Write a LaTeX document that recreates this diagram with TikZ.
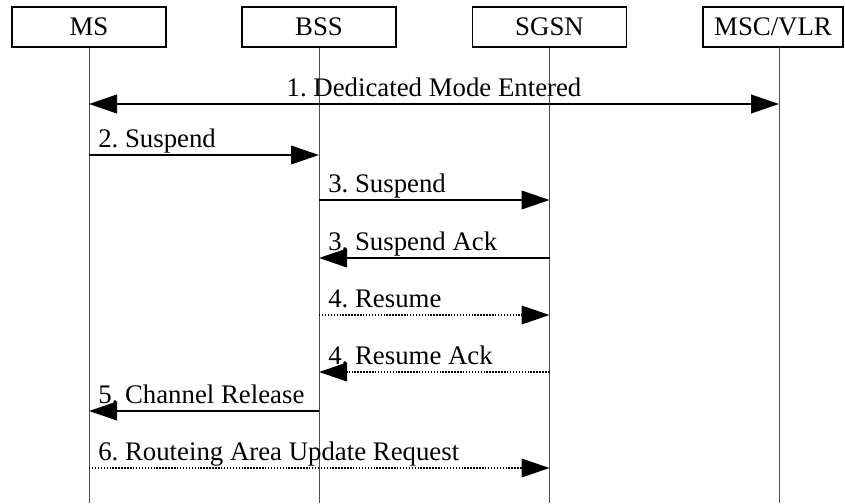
\documentclass[tikz,border=0pt]{standalone}
\usepackage{fontspec}
\setmainfont{Liberation Serif}
\usetikzlibrary{arrows.meta}
\frenchspacing
\begin{document}
\begin{tikzpicture}[x=0.75pt,y=-0.75pt,
  font=\fontsize{20.1}{22}\selectfont,
  entity/.style={draw=black,line width=1pt,minimum height=30pt,inner sep=0pt},
  life/.style={draw=black!70,line width=0.75pt},
  msg/.style={line width=1.3pt,-{Triangle[length=21pt,width=14pt]}},
  dmsg/.style={msg,dash pattern=on 1.1pt off 1.1pt},
  lbl/.style={anchor=base west,inner sep=0pt}]
\useasboundingbox (0,0) rectangle (845,503);
% entity boxes
\node[entity,minimum width=115.5pt] (ms)   at (89,27)  {MS};
\node[entity,minimum width=115.5pt] (bss)  at (319,27) {BSS};
\node[entity,minimum width=115.5pt] (sgsn) at (549.5,27) {SGSN};
\node[entity,minimum width=105pt]   (msc)  at (773,27) {MSC/VLR};
% lifelines
\coordinate (msB) at (89,503);
\coordinate (bssB) at (319,503);
\coordinate (sgsnB) at (549.5,503);
\coordinate (mscB) at (779,503);
\draw[life] (ms.south) -- (msB);
\draw[life] (bss.south) -- (bssB);
\draw[life] (sgsn.south) -- (sgsnB);
\draw[life] (779,47) coordinate (mscT) -- (mscB);
% message end points
\coordinate (m1a) at (89,104);  \coordinate (m1b) at (779,104);
\coordinate (m2a) at (89,155);  \coordinate (m2b) at (319,155);
\coordinate (m3a) at (319,200); \coordinate (m3b) at (549.5,200);
\coordinate (m4a) at (319,258); \coordinate (m4b) at (549.5,258);
\coordinate (m5a) at (319,315); \coordinate (m5b) at (549.5,315);
\coordinate (m6a) at (319,372); \coordinate (m6b) at (549.5,372);
\coordinate (m7a) at (89,411);  \coordinate (m7b) at (319,411);
\coordinate (m8a) at (89,468);  \coordinate (m8b) at (549.5,468);
% messages
\draw[msg,{Triangle[length=21pt,width=14pt]}-{Triangle[length=21pt,width=14pt]}] (m1a) -- (m1b);
\node[anchor=base,inner sep=0pt] (l1) at (434,96) {1. Dedicated Mode Entered};
\draw[msg] (m2a) -- (m2b);
\node[lbl] (l2) at (98,147) {2. Suspend};
\draw[msg] (m3a) -- (m3b);
\node[lbl] (l3) at (328,192) {3. Suspend};
\draw[msg] (m4b) -- (m4a);
\node[lbl] (l4) at (328,250) {3. Suspend Ack};
\draw[dmsg] (m5a) -- (m5b);
\node[lbl] (l5) at (328,307) {4. Resume};
\draw[dmsg] (m6b) -- (m6a);
\node[lbl] (l6) at (328,364) {4. Resume Ack};
\draw[msg] (m7b) -- (m7a);
\node[lbl] (l7) at (98,403) {5. Channel Release};
\draw[dmsg] (m8a) -- (m8b);
\node[lbl] (l8) at (98,460) {6. Routeing Area Update Request};
\end{tikzpicture}
\end{document}
